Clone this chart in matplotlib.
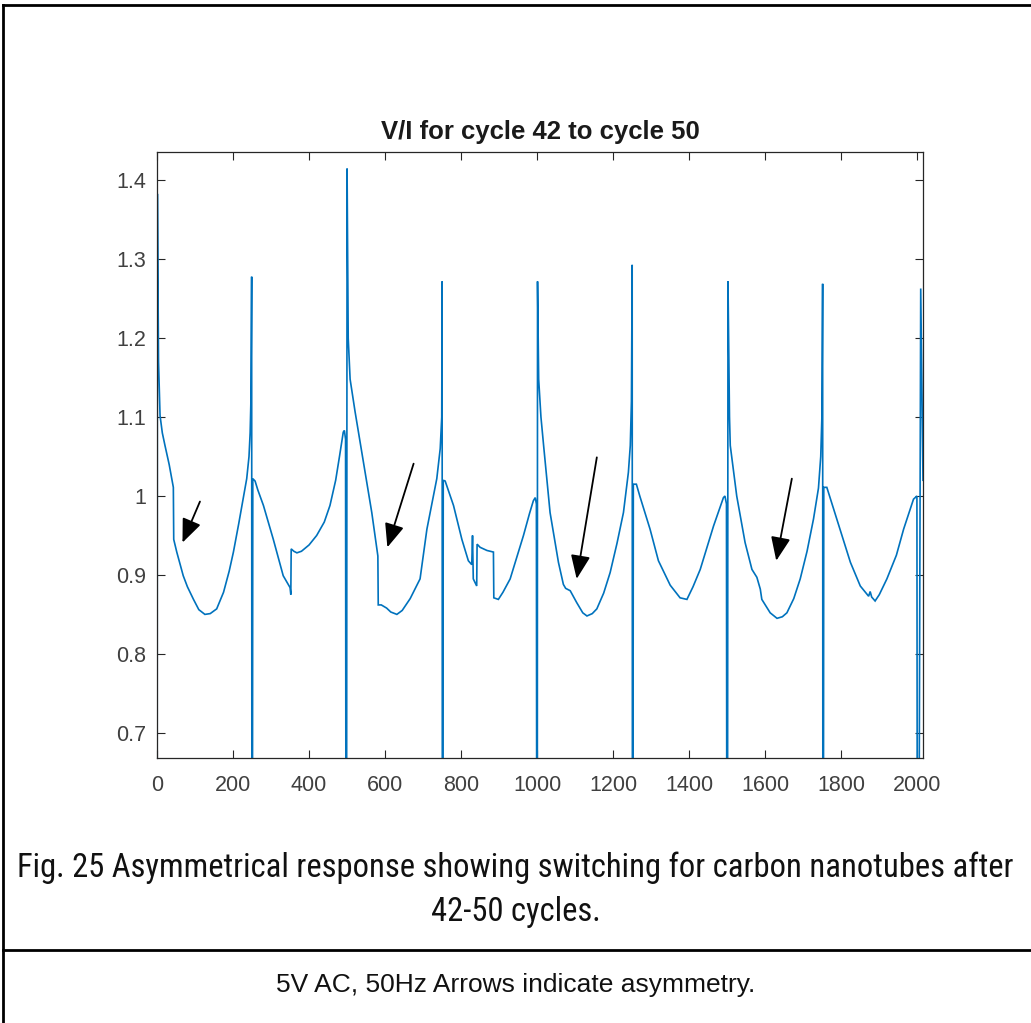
import matplotlib
matplotlib.use("Agg")
import matplotlib.pyplot as plt
from matplotlib.lines import Line2D
from matplotlib import font_manager as fm

# ---- data (sample index, V/I) ----
sample = [0, 1, 4, 8, 14, 21, 32, 43, 44, 52, 69, 80, 96, 110, 126, 140, 157, 175, 190, 201, 215, 228, 236, 242, 245, 247, 249,
          250, 252, 258, 265, 280, 306, 332, 350, 352, 353, 360, 368, 380, 400, 420, 440, 455, 470, 480, 490, 493, 496, 498,
          500, 503, 508, 521, 532, 543, 565, 581, 582, 590, 604, 615, 631, 645, 666, 692, 710, 736, 745, 749, 750,
          751, 753, 758, 780, 802, 819, 828, 830, 832, 841, 842, 850, 868, 885, 886, 898, 910, 929, 945, 964, 980, 990, 995, 998,
          1000, 1001, 1004, 1010, 1017, 1034, 1056, 1069, 1075, 1087, 1104, 1120, 1131, 1145, 1157, 1175, 1192, 1210, 1227, 1240, 1245, 1248, 1250,
          1251, 1253, 1261, 1270, 1297, 1319, 1322, 1350, 1376, 1394, 1410, 1429, 1464, 1490, 1494, 1498,
          1500, 1502, 1506, 1508, 1525, 1547, 1565, 1578, 1587, 1591, 1613, 1631, 1645, 1657, 1675, 1692, 1710, 1727, 1740, 1746, 1749, 1751,
          1752, 1754, 1762, 1788, 1824, 1850, 1872, 1876, 1880, 1889, 1900, 1920, 1945, 1964, 1990, 1999,
          2001, 2009, 2015]
ratio = [0.0, 1.383, 1.17, 1.102, 1.08, 1.064, 1.04, 1.011, 0.945, 0.929, 0.899, 0.885, 0.869, 0.856, 0.850, 0.851, 0.857, 0.878, 0.905, 0.929, 0.965, 1.0, 1.022, 1.05, 1.08, 1.12, 1.278,
         0.0, 1.022, 1.019, 1.008, 0.988, 0.945, 0.899, 0.884, 0.875, 0.933, 0.930, 0.928, 0.930, 0.938, 0.950, 0.967, 0.988, 1.02, 1.05, 1.081, 1.083, 1.072, 0.0,
         1.415, 1.2, 1.148, 1.107, 1.075, 1.043, 0.979, 0.924, 0.862, 0.862, 0.858, 0.853, 0.850, 0.855, 0.870, 0.895, 0.958, 1.022, 1.06, 1.1, 1.272,
         0.0, 1.02, 1.019, 0.988, 0.945, 0.918, 0.913, 0.950, 0.895, 0.886, 0.939, 0.935, 0.931, 0.929, 0.871, 0.869, 0.878, 0.895, 0.92, 0.950, 0.978, 0.994, 0.998, 0.99,
         0.0, 1.272, 1.148, 1.10, 1.064, 0.979, 0.916, 0.888, 0.883, 0.880, 0.865, 0.852, 0.848, 0.851, 0.857, 0.877, 0.903, 0.94, 0.979, 1.03, 1.064, 1.12, 1.293,
         0.0, 1.015, 1.015, 1.0, 0.958, 0.918, 0.915, 0.887, 0.871, 0.869, 0.885, 0.907, 0.962, 0.998, 1.0, 0.99,
         0.0, 1.272, 1.10, 1.064, 1.0, 0.941, 0.907, 0.897, 0.882, 0.869, 0.852, 0.845, 0.847, 0.852, 0.87, 0.895, 0.93, 0.971, 1.01, 1.05, 1.1, 1.269,
         0.0, 1.011, 1.011, 0.971, 0.916, 0.886, 0.873, 0.879, 0.872, 0.867, 0.875, 0.895, 0.925, 0.958, 0.996, 1.0,
         0.0, 1.263, 1.02]

x_ticks = [0, 200, 400, 600, 800, 1000, 1200, 1400, 1600, 1800, 2000]
y_ticks = [0.7, 0.8, 0.9, 1.0, 1.1, 1.2, 1.3, 1.4]
y_tick_labels = ["0.7", "0.8", "0.9", "1", "1.1", "1.2", "1.3", "1.4"]

# arrows: (tail_x, tail_y, head_x, head_y)
arrow_tail_x = [113, 675, 1157, 1670]
arrow_tail_y = [0.993, 1.041, 1.049, 1.022]
arrow_head_x = [67, 606, 1104, 1629]
arrow_head_y = [0.941, 0.935, 0.895, 0.918]

title = "V/I for cycle 42 to cycle 50"
caption_line1 = "Fig. 25 Asymmetrical response showing switching for carbon nanotubes after"
caption_line2 = "42-50 cycles."
note = "5V AC, 50Hz Arrows indicate asymmetry."

W, H = 1031, 1023
fig = plt.figure(figsize=(W / 100, H / 100), dpi=100)
fig.patch.set_facecolor("white")

ax = fig.add_axes([157 / W, 1 - 758 / H, (923 - 157) / W, (758 - 152) / H])
ax.plot(sample, ratio, color="#0072BD", lw=1.2, solid_joinstyle="miter")
ax.set_xlim(0, 2015)
ax.set_ylim(0.668, 1.436)
ax.set_xticks(x_ticks)
ax.set_yticks(y_ticks)
ax.set_yticklabels(y_tick_labels)
sans = ["Liberation Sans", "DejaVu Sans"]
for lab in ax.get_xticklabels() + ax.get_yticklabels():
    lab.set_fontfamily(sans)
    lab.set_fontsize(15.5)
ax.tick_params(direction="in", top=True, right=True, length=5.5, width=0.8,
               colors="#262626", labelcolor="#404040")
ax.tick_params(axis="x", pad=12)
ax.tick_params(axis="y", pad=8)
for sp in ax.spines.values():
    sp.set_color("#262626")
    sp.set_linewidth(0.9)
ax.set_title(title, fontsize=18.5, fontweight="bold", family=sans,
             color="#1a1a1a", pad=9)

for tx, ty, hx, hy in zip(arrow_tail_x, arrow_tail_y, arrow_head_x, arrow_head_y):
    ax.annotate("", xy=(hx, hy), xytext=(tx, ty),
                arrowprops=dict(arrowstyle="-|>,head_length=1.45,head_width=0.6",
                                color="black", lw=1.3, shrinkA=0, shrinkB=0))

# frame lines (table borders)
fig.add_artist(Line2D([3 / W, 3 / W], [0, 1 - 5 / H], transform=fig.transFigure, color="black", lw=2))
fig.add_artist(Line2D([3 / W, 1], [1 - 5 / H, 1 - 5 / H], transform=fig.transFigure, color="black", lw=2))
fig.add_artist(Line2D([3 / W, 1], [1 - 950 / H, 1 - 950 / H], transform=fig.transFigure, color="black", lw=2))

# caption font: prefer a condensed family if one is installed
names = {f.name for f in fm.fontManager.ttflist}
cap_family = None
for cand in ["Roboto Condensed", "Open Sans Condensed", "Liberation Sans Narrow",
             "DejaVu Sans Condensed", "Noto Sans Condensed", "Arial Narrow"]:
    if cand in names:
        cap_family = cand
        break
cap_stretch = "normal"
if cap_family is None:
    if any(f.name == "DejaVu Sans" and f.stretch == "condensed" for f in fm.fontManager.ttflist):
        cap_family, cap_stretch = "DejaVu Sans", "condensed"
    else:
        cap_family = "Liberation Sans"

t1 = fig.text(0.5, 1 - 868 / H, caption_line1, ha="center", va="center", fontsize=22,
              family=[cap_family, "DejaVu Sans"], fontstretch=cap_stretch, color="#111111")
t2 = fig.text(0.5, 1 - 912 / H, caption_line2, ha="center", va="center", fontsize=22,
              family=[cap_family, "DejaVu Sans"], fontstretch=cap_stretch, color="#111111")
renderer = fig.canvas.get_renderer()
w = t1.get_window_extent(renderer).width
size = 22 * 997.0 / w
t1.set_fontsize(size)
t2.set_fontsize(size)

fig.text(0.5, 1 - 985 / H, note, ha="center", va="center", fontsize=19,
         family=sans, color="#111111")

fig.savefig("out.png", dpi=100, facecolor="white")
